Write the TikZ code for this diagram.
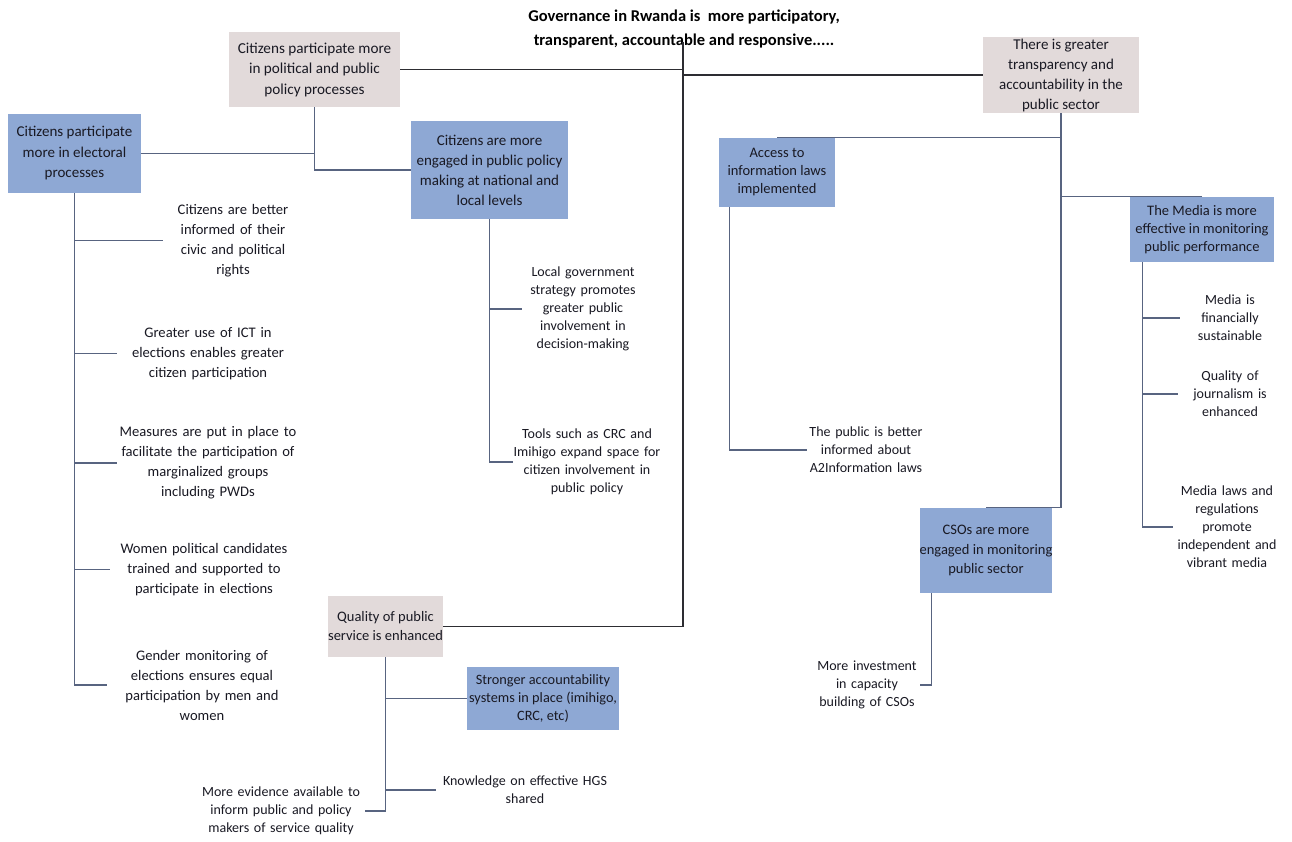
\documentclass[tikz,border=0pt]{standalone}
\usepackage{fontspec}
\setmainfont{Carlito}
\definecolor{bluebox}{RGB}{142,168,212}
\definecolor{graybox}{RGB}{226,218,218}
\definecolor{lnblue}{RGB}{88,100,128}
\definecolor{lndark}{RGB}{45,45,50}
\definecolor{txtc}{RGB}{25,25,35}
\begin{document}
\begin{tikzpicture}[x=1pt,y=-1pt,
  bx/.style={draw=none, inner sep=0pt, align=center, text=txtc},
  bluebx/.style={bx, fill=bluebox},
  graybx/.style={bx, fill=graybox},
  lbl/.style={inner sep=0pt, align=center, text=txtc, font=\fontsize{14.6}{20}\selectfont},
  sml/.style={inner sep=0pt, align=center, text=txtc, font=\fontsize{14}{18}\selectfont},
  conn/.style={draw=lnblue, line width=1.1pt},
  mainln/.style={draw=lndark, line width=1.2pt}]
\fill[white] (0,0) rectangle (1292,841);
\useasboundingbox (0,0) rectangle (1292,841);

% title
\node[font=\bfseries\fontsize{16.5}{24}\selectfont, align=center, inner sep=0pt] (title) at (684,29)
  {Governance in Rwanda is\ \ more participatory,\\transparent, accountable and responsive.....};
\coordinate (hub) at (683,42);

% boxes
\node[graybx, minimum width=171, minimum height=75, font=\fontsize{15.2}{20.5}\selectfont] (pol) at (314.5,69.5)
  {Citizens participate more\\in political and public\\policy processes};
\node[bluebx, minimum width=133, minimum height=79, font=\fontsize{15}{20.5}\selectfont] (elec) at (74.5,153.5)
  {Citizens participate\\more in electoral\\processes};
\node[bluebx, minimum width=157, minimum height=98, font=\fontsize{15}{20}\selectfont] (eng) at (489.5,170)
  {Citizens are more\\engaged in public policy\\making at national and\\local levels};
\node[bluebx, minimum width=116, minimum height=69, font=\fontsize{14.5}{18}\selectfont] (access) at (777,172.5)
  {Access to\\information laws\\implemented};
\node[graybx, minimum width=156, minimum height=76, font=\fontsize{15}{20}\selectfont] (transp) at (1061,75)
  {There is greater\\transparency and\\accountability in the\\public sector};
\node[bluebx, minimum width=144, minimum height=65, font=\fontsize{14.5}{18}\selectfont] (media) at (1202,229.5)
  {The Media is more\\effective in monitoring\\public performance};
\node[bluebx, minimum width=132, minimum height=85, font=\fontsize{14.5}{19.5}\selectfont] (cso) at (986,550.5)
  {CSOs are more\\engaged in monitoring\\public sector};
\node[graybx, minimum width=115, minimum height=61, font=\fontsize{14.5}{19}\selectfont] (quality) at (385.5,626.5)
  {Quality of public\\service is enhanced};
\node[bluebx, minimum width=152, minimum height=63, font=\fontsize{14.3}{18}\selectfont] (stronger) at (543,698.5)
  {Stronger accountability\\systems in place (imihigo,\\CRC, etc)};

% texts
\node[lbl, text width=140] (c1) at (233,240.5) {Citizens are better\\informed of their\\civic and political\\rights};
\node[lbl, text width=182] (c2) at (208,353.5) {Greater use of ICT in\\elections enables greater\\citizen participation};
\node[lbl, text width=182] (c3) at (208,463) {Measures are put in place to\\facilitate the participation of\\marginalized groups\\including PWDs};
\node[lbl, text width=188] (c4) at (204,569.5) {Women political candidates\\trained and supported to\\participate in elections};
\node[lbl, text width=190] (c5) at (202,685) {Gender monitoring of\\elections ensures equal\\participation by men and\\women};

\node[sml, text width=122] (e1) at (583,309) {Local government\\strategy promotes\\greater public\\involvement in\\decision-making};
\node[sml, text width=148] (e2) at (587,462) {Tools such as CRC and\\Imihigo expand space for\\citizen involvement in\\public policy};

\node[sml, text width=118] (a1) at (866,450) {The public is better\\informed about\\A2Information laws};

\node[sml, text width=100] (m1) at (1230,318) {Media is\\financially\\sustainable};
\node[sml, text width=104] (m2) at (1230,394) {Quality of\\journalism is\\enhanced};
\node[sml, text width=108] (m3) at (1227,527) {Media laws and\\regulations\\promote\\independent and\\vibrant media};

\node[sml, text width=106] (s1) at (867,685) {More investment\\in capacity\\building of CSOs};

\node[sml, text width=178] (q2) at (525,790) {Knowledge on effective HGS\\shared};
\node[sml, text width=168] (q3) at (281,811) {More evidence available to\\inform public and policy\\makers of service quality};

% main connectors
\draw[mainln] (pol.east) -- (pol.east -| hub);
\draw[mainln] (hub) -- (hub |- quality.east) -- (quality.east);
\draw[mainln] (hub |- transp.west) -- (transp.west);

% left cluster
\draw[conn] (elec.east) -- (elec.east -| pol.south);
\draw[conn] (pol.south) |- (eng.west);
\draw[conn] (elec.south) |- (c5.west);
\foreach \n in {c1,c2,c3,c4} \draw[conn] (elec.south |- \n.west) -- (\n.west);
\draw[conn] (eng.south) |- (e2.west);
\draw[conn] (eng.south |- e1.west) -- (e1.west);

% right cluster
\draw[conn] (transp.south) |- (cso.north);
\draw[conn] (access.north) -- (access.north -| transp.south);
\draw[conn] (media.north) -- (media.north -| transp.south);
\coordinate (acct) at ([xshift=11pt]access.south west);
\draw[conn] (acct) |- (a1.west);
\coordinate (medt) at ([xshift=13pt]media.south west);
\draw[conn] (medt) |- (m3.west);
\draw[conn] (medt |- m1.west) -- (m1.west);
\draw[conn] (medt |- m2.west) -- (m2.west);
\coordinate (csot) at ([xshift=12pt]cso.south west);
\draw[conn] (csot) |- (s1.east);

% quality cluster
\draw[conn] (quality.south) |- (q3.east);
\draw[conn] (quality.south |- stronger.west) -- (stronger.west);
\draw[conn] (quality.south |- q2.west) -- (q2.west);
\end{tikzpicture}
\end{document}
